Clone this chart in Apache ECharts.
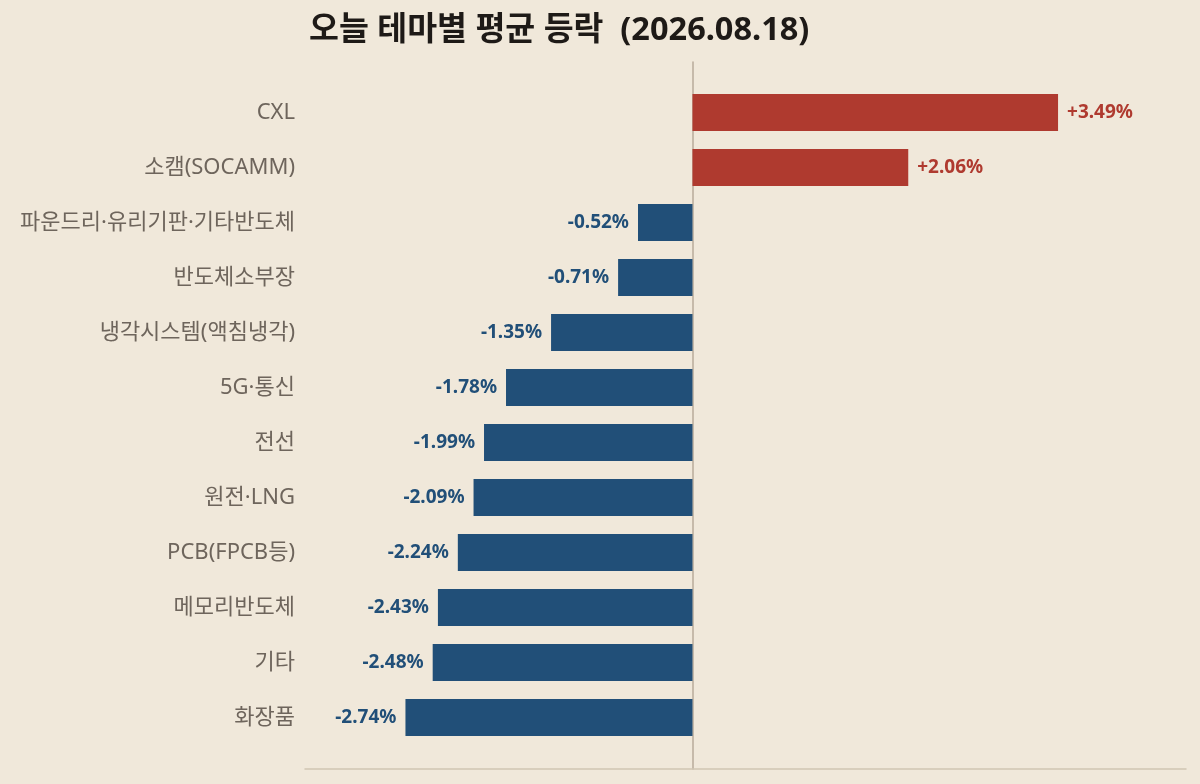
<!DOCTYPE html>
<html>
<head>
<meta charset="utf-8">
<script src="https://cdn.jsdelivr.net/npm/echarts@6/dist/echarts.min.js"></script>
<style>
  html, body { margin: 0; padding: 0; background: #f0e8da; }
  #chart { width: 1200px; height: 784px; }
</style>
</head>
<body>
<div id="chart"></div>
<script>
var themes = ['CXL', '소캠(SOCAMM)', '파운드리·유리기판·기타반도체', '반도체소부장', '냉각시스템(액침냉각)',
              '5G·통신', '전선', '원전·LNG', 'PCB(FPCB등)', '메모리반도체', '기타', '화장품'];
var changes = [3.49, 2.06, -0.52, -0.71, -1.35, -1.78, -1.99, -2.09, -2.24, -2.43, -2.48, -2.74];
var titleText = '오늘 테마별 평균 등락  (2026.08.18)';

var UP = '#af3a2f', DOWN = '#214f78';
var FONT = '"Noto Sans", "Noto Sans CJK KR", sans-serif';

// axis limits padded like the original (35% past the extremes)
var xMin = Math.min.apply(null, changes) * 1.35;
var xMax = Math.max.apply(null, changes) * 1.35;

var barData = changes.map(function (v) {
    var c = v >= 0 ? UP : DOWN;
    return {
        value: v,
        itemStyle: { color: c },
        label: { position: v >= 0 ? 'right' : 'left', color: c }
    };
});

var chart = echarts.init(document.getElementById('chart'));
chart.setOption({
    backgroundColor: '#f0e8da',
    animation: false,
    title: {
        text: titleText,
        left: 304,
        top: 9,
        textStyle: { fontFamily: FONT, fontSize: 32.5, fontWeight: 'bold', color: '#1e1a17' }
    },
    grid: [
        { left: 305, right: 14, top: 85, bottom: 39 },   // bars
        { left: 305, right: 14, top: 62, bottom: 15 }    // frame lines
    ],
    xAxis: [
        { gridIndex: 0, type: 'value', min: xMin, max: xMax, show: false },
        {
            gridIndex: 1, type: 'value', min: xMin, max: xMax,
            axisLine: { show: true, onZero: false, lineStyle: { color: '#d0c5b3', width: 1.5 } },
            axisTick: { show: false }, axisLabel: { show: false }, splitLine: { show: false }
        }
    ],
    yAxis: [
        {
            gridIndex: 0, type: 'category', data: themes, inverse: true,
            axisLine: { show: false }, axisTick: { show: false },
            axisLabel: { fontFamily: FONT, fontSize: 22, color: '#6e655c', margin: 10, padding: [4, 0, 0, 0] }
        },
        {
            gridIndex: 1, type: 'category', data: [],
            axisLine: { show: true, onZero: true, lineStyle: { color: '#b8ab9a', width: 1.5 } },
            axisTick: { show: false }, axisLabel: { show: false }
        }
    ],
    series: [{
        type: 'bar',
        xAxisIndex: 0,
        yAxisIndex: 0,
        barWidth: '67%',
        data: barData,
        label: {
            show: true,
            distance: 9,
            fontFamily: FONT,
            fontSize: 19,
            fontWeight: 'bold',
            formatter: function (p) {
                return (p.value > 0 ? '+' : '') + p.value.toFixed(2) + '%';
            }
        }
    }]
});
</script>
</body>
</html>
